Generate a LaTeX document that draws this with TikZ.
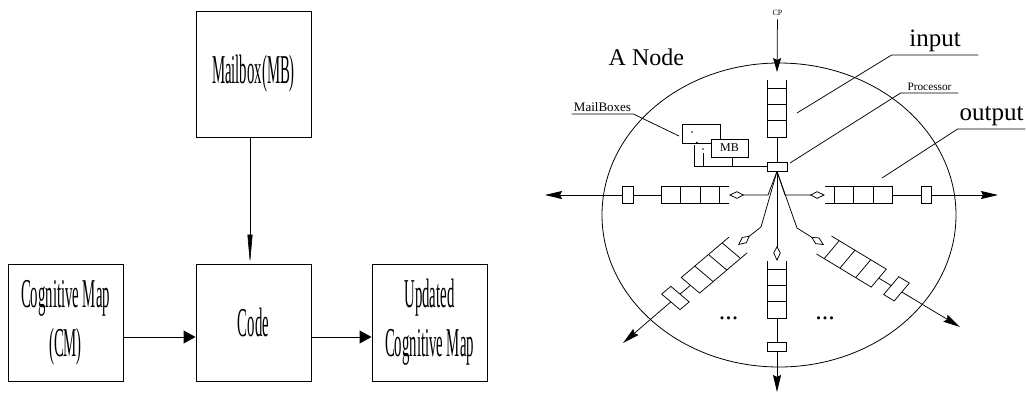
\documentclass[tikz,border=0pt]{standalone}
\usepackage{fontspec}
\setmainfont{Liberation Serif}
\newfontfamily\narrowfont{Liberation Serif}[FakeStretch=0.36]
\usetikzlibrary{arrows.meta,positioning}

\tikzset{
  block/.style={draw,line width=1pt,minimum width=115pt,minimum height=117pt,inner sep=0pt,
    align=center,font=\narrowfont\fontsize{41}{49}\selectfont},
  flow/.style={line width=1pt,-{Triangle[length=12pt,width=13pt]}},
  sendarrow/.style={-{Stealth[length=17pt,width=8pt,inset=2pt]}},
  feed/.style={-{Kite[open,length=15pt,width=7.5pt,inset=7pt]}},
  tagline/.style={minimum width=#1,inner xsep=0pt,inner ysep=2pt,text depth=0pt,anchor=south},
  % queue of three cells, open end at the origin
  pics/fifo/.style={code={
    \draw (0,-#1) -- (57,-#1) -- (57,#1) -- (0,#1);
    \foreach \d in {8,24.4,40.8}
      \draw (\d,-#1) -- (\d,#1);
    \coordinate (-end) at (57,0);
  }},
  % output latch behind a queue
  pics/latch/.style 2 args={code={
    \draw (-#1,-#2) rectangle (#1,#2);
    \coordinate (-in) at (-#1,0);
    \coordinate (-out) at (#1,0);
  }}
}

\begin{document}
\begin{tikzpicture}[x=1pt,y=-1pt]
  \useasboundingbox (0,0) rectangle (1027,392);
  % code block with its mailbox
  \node[block,minimum height=126pt] (mb) at (253.5,74) {Mailbox(MB)};
  \node[block] (cm) at (65.5,322.5) {Cognitive Map\\(CM)};
  \node[block] (code) at (253.5,322.5) {Code};
  \node[block] (upd) at (429.5,322.5) {Updated\\Cognitive Map};
  \draw[line width=0.6pt,-{Triangle[length=29pt,width=5pt]}] ([xshift=-3.5pt]mb.south) -- ([xshift=-3.5pt]code.north);
  \draw[flow] ([yshift=-14.5pt]cm.east) -- ([yshift=-14.5pt]code.west);
  \draw[flow] ([yshift=-14.5pt]code.east) -- ([yshift=-14.5pt]upd.west);

  \begin{scope}[line width=0.75pt]
  % the node
  \draw[line width=0.8pt] (779,215) ellipse [x radius=177, y radius=152];
  \node[anchor=base west,font=\fontsize{24}{28}\selectfont] (title) at (605,65) {A Node};
  % processor fed by the input queue
  \node[draw,minimum width=20pt,minimum height=9pt,inner sep=0pt] (proc) at (777,166.5) {};
  \node[font=\fontsize{8}{9}\selectfont] (cp) at (777.5,13) {CP};
  \coordinate (cpin) at (777,72);
  \draw[-{Stealth[length=14pt,width=8pt,inset=2pt]}] (cp) -- (cpin);
  \pic[xscale=1.18,rotate=-90] (fN) at (777,80) {fifo=8.25};
  \draw (fN-end) -- (proc);
  % mailboxes
  \node[draw,minimum width=38pt,minimum height=19pt,inner sep=0pt] (mbA) at (701,133.5) {};
  \node[draw,fill=white,minimum width=37pt,minimum height=18pt,inner sep=0pt,font=\fontsize{12}{14}\selectfont] (mbB) at (729.5,148) {MB};
  \fill (692,132) circle (0.8) (697,142.5) circle (0.8) (703,149) circle (0.8);
  \draw (694,145) |- (proc.west);
  \draw (703,153) -- (703,166.5);
  \draw ([xshift=2.5pt]mbB.south) -- ++(0,9.5);
  % output queues
  \coordinate (qE) at (825,195);
  \coordinate (qW) at (729,195);
  \coordinate (qS) at (777,261);
  \coordinate (qSW) at (738,245);
  \coordinate (qSE) at (824,245);
  \pic[xscale=1.18] (fE) at (qE) {fifo=8.25};
  \pic[xscale=1.18,rotate=180] (fW) at (qW) {fifo=8.25};
  \pic[xscale=1.18,rotate=-90] (fS) at (qS) {fifo=8.25};
  \pic[xscale=1.18,rotate=225] (fSW) at (qSW) {fifo=11};
  \pic[xscale=1.18,rotate=-35.5] (fSE) at (qSE) {fifo=11};
  \pic[xscale=1.18] (lE) at (926.5,195) {latch={4.5}{8.25}};
  \pic[xscale=1.18,rotate=180] (lW) at (628,195) {latch={4.5}{8.25}};
  \pic[xscale=1.18,rotate=-90] (lS) at (777,347) {latch={4.5}{8.25}};
  \pic[xscale=1.18,rotate=225] (lSW) at (675.4,298) {latch={5.5}{11}};
  \pic[xscale=1.18,rotate=-35.5] (lSE) at (896.5,288.8) {latch={5.5}{11}};
  \draw (fE-end) -- (lE-in);
  \draw (fW-end) -- (lW-in);
  \draw (fS-end) -- (lS-in);
  \draw (fSW-end) -- (lSW-in);
  \draw (fSE-end) -- (lSE-in);
  \coordinate (tE) at (998,195);
  \coordinate (tW) at (545,195);
  \coordinate (tS) at (777,392);
  \coordinate (tSW) at (623,343);
  \coordinate (tSE) at (960,327);
  \draw[sendarrow] (lE-out) -- (tE);
  \draw[sendarrow] (lW-out) -- (tW);
  \draw[sendarrow] (lS-out) -- (tS);
  \draw[sendarrow] (lSW-out) -- (tSW);
  \draw[sendarrow] (lSE-out) -- (tSE);
  % processor to queues
  \coordinate (bW) at (768,195);
  \coordinate (bE) at (785,195);
  \coordinate (bSW) at (761,227);
  \coordinate (bSE) at (797,228);
  \draw[feed] (proc.south) -- (bW) -- (qW);
  \draw[feed] (proc.south) -- (bE) -- (qE);
  \draw[feed] (proc.south) -- (bSW) -- (qSW);
  \draw[feed] (proc.south) -- (bSE) -- (qSE);
  \draw[feed] (proc.south) -- (qS);
  \node[anchor=base,font=\fontsize{26}{28}\selectfont] (dotsL) at (728.5,319.5) {...};
  \node[anchor=base,font=\fontsize{26}{28}\selectfont] (dotsR) at (825,319.5) {...};
  % labels
  \node[tagline=61pt,font=\fontsize{13}{15}\selectfont] (lmb) at (602.5,114) {MailBoxes};
  \coordinate (mbtip) at (679,136);
  \draw (lmb.south west) -- (lmb.south east) -- (mbtip);
  \node[tagline=57pt,font=\fontsize{11.3}{13}\selectfont] (lproc) at (929.5,93) {Processor};
  \coordinate (proctip) at (790,163);
  \draw (lproc.south east) -- (lproc.south west) -- (proctip);
  \node[tagline=86pt,inner ysep=8pt,font=\fontsize{25}{30}\selectfont] (lin) at (935,55) {input};
  \coordinate (intip) at (797,113);
  \draw (lin.south east) -- (lin.south west) -- (intip);
  \node[tagline=67pt,inner ysep=8pt,font=\fontsize{25}{30}\selectfont] (lout) at (991.5,129) {output};
  \coordinate (outtip) at (882,178);
  \draw (lout.south east) -- (lout.south west) -- (outtip);
  \end{scope}
\end{tikzpicture}
\end{document}
